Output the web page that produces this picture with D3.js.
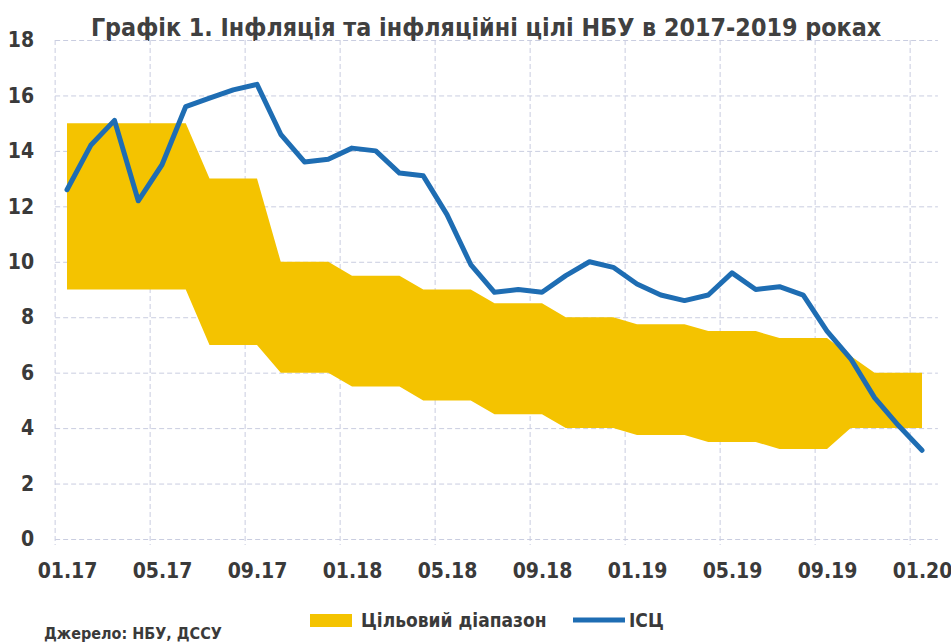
<!DOCTYPE html>
<html>
<head>
<meta charset="utf-8">
<script src="https://cdn.jsdelivr.net/npm/d3@7"></script>
<style>
  body { margin: 0; background: #fff; }
  svg text { font-family: "Liberation Sans Narrow", "DejaVu Sans Condensed", "Roboto", sans-serif; font-weight: bold; fill: #3a3a3a; }
</style>
</head>
<body>
<div id="chart"></div>
<script>
// monthly points, 01.17 .. 01.20
const months = [
  "01.17","02.17","03.17","04.17","05.17","06.17","07.17","08.17","09.17","10.17","11.17","12.17",
  "01.18","02.18","03.18","04.18","05.18","06.18","07.18","08.18","09.18","10.18","11.18","12.18",
  "01.19","02.19","03.19","04.19","05.19","06.19","07.19","08.19","09.19","10.19","11.19","12.19",
  "01.20"
];

// CPI, % yoy
const cpi = [
  12.6, 14.2, 15.1, 12.2, 13.5, 15.6, 15.9, 16.2, 16.4, 14.6, 13.6, 13.7,
  14.1, 14.0, 13.2, 13.1, 11.7, 9.9, 8.9, 9.0, 8.9, 9.5, 10.0, 9.8,
  9.2, 8.8, 8.6, 8.8, 9.6, 9.0, 9.1, 8.8, 7.5, 6.5, 5.1, 4.1,
  3.2
];

// target range, lower and upper bound
const bandLow = [
  9, 9, 9, 9, 9, 9, 7, 7, 7, 6, 6, 6,
  5.5, 5.5, 5.5, 5, 5, 5, 4.5, 4.5, 4.5, 4, 4, 4,
  3.75, 3.75, 3.75, 3.5, 3.5, 3.5, 3.25, 3.25, 3.25, 4, 4, 4,
  4
];
const bandHigh = [
  15, 15, 15, 15, 15, 15, 13, 13, 13, 10, 10, 10,
  9.5, 9.5, 9.5, 9, 9, 9, 8.5, 8.5, 8.5, 8, 8, 8,
  7.75, 7.75, 7.75, 7.5, 7.5, 7.5, 7.25, 7.25, 7.25, 6.6, 6, 6,
  6
];

const yTicks = [0, 2, 4, 6, 8, 10, 12, 14, 16, 18];
const xTickLabels = ["01.17","05.17","09.17","01.18","05.18","09.18","01.19","05.19","09.19","01.20"];

class InflationChart {
  constructor(_config) {
    this.config = {
      parentElement: _config.parentElement,
      containerWidth: _config.containerWidth || 951,
      containerHeight: _config.containerHeight || 644,
      bandColor: '#f4c300',
      lineColor: '#1e6db3',
      gridColor: '#c9cde0'
    };
    this.data = months.map((m, i) => ({ month: m, i: i, cpi: cpi[i], low: bandLow[i], high: bandHigh[i] }));
    this.initVis();
  }

  initVis() {
    let vis = this;

    vis.svg = d3.select(vis.config.parentElement)
      .append('svg')
        .attr('width', vis.config.containerWidth)
        .attr('height', vis.config.containerHeight);

    // month index -> x, points sit at category centres
    vis.xScale = d3.scaleLinear()
      .domain([0, months.length - 1])
      .range([67, 922]);

    vis.yScale = d3.scaleLinear()
      .domain([0, 18])
      .range([539, 40]);

    vis.left = vis.xScale(-0.5);
    vis.right = vis.xScale(months.length - 0.5) + 4;

    // title, shrunk to the width it takes in the original
    const title = vis.svg.append('text')
      .attr('x', 486)
      .attr('y', 36)
      .attr('text-anchor', 'middle')
      .style('font-size', '27px')
      .style('fill', '#404040')
      .text('Графік 1. Інфляція та інфляційні цілі НБУ в 2017-2019 роках');
    const w = title.node().getComputedTextLength();
    if (w > 790) title.style('font-size', (27 * 790 / w).toFixed(1) + 'px');

    vis.gridG = vis.svg.append('g').attr('class', 'grid');
    vis.chart = vis.svg.append('g');

    vis.renderVis();
  }

  renderVis() {
    let vis = this;

    // horizontal gridlines (y axis with full-width ticks)
    const yAxis = d3.axisLeft(vis.yScale)
      .tickValues(yTicks)
      .tickSize(-(vis.right - vis.left))
      .tickPadding(20)
      .tickFormat(d3.format('d'));

    const yAxisG = vis.gridG.append('g')
      .attr('transform', `translate(${vis.left},0)`)
      .call(yAxis);
    yAxisG.select('.domain').remove();
    yAxisG.selectAll('line')
      .attr('stroke', vis.config.gridColor)
      .attr('stroke-dasharray', '5,3');
    yAxisG.selectAll('text')
      .attr('x', -21)
      .style('font-size', '21px')
      .style('fill', '#3a3a3a');

    // vertical gridlines between categories, every 4 months
    const xTicks = xTickLabels.map(l => months.indexOf(l));
    vis.gridG.selectAll('.vgrid')
      .data(xTicks)
      .join('line')
      .attr('class', 'vgrid')
      .attr('x1', d => vis.xScale(d - 0.5))
      .attr('x2', d => vis.xScale(d - 0.5))
      .attr('y1', vis.yScale(18))
      .attr('y2', vis.yScale(0) + 6)
      .attr('stroke', vis.config.gridColor)
      .attr('stroke-dasharray', '5,3');

    // x labels
    const xAxis = d3.axisBottom(vis.xScale)
      .tickValues(xTicks)
      .tickSize(0)
      .tickPadding(24)
      .tickFormat(d => months[d]);

    const xAxisG = vis.svg.append('g')
      .attr('transform', `translate(0,${vis.yScale(0)})`)
      .call(xAxis);
    xAxisG.select('.domain').remove();
    xAxisG.selectAll('text')
      .style('font-size', '21px')
      .style('fill', '#3a3a3a');

    // target band
    const area = d3.area()
      .x(d => vis.xScale(d.i))
      .y0(d => vis.yScale(d.low))
      .y1(d => vis.yScale(d.high));

    vis.chart.append('path')
      .datum(vis.data)
      .attr('d', area)
      .attr('fill', vis.config.bandColor);

    // CPI line
    const line = d3.line()
      .x(d => vis.xScale(d.i))
      .y(d => vis.yScale(d.cpi));

    vis.chart.append('path')
      .datum(vis.data)
      .attr('d', line)
      .attr('fill', 'none')
      .attr('stroke', vis.config.lineColor)
      .attr('stroke-width', 5)
      .attr('stroke-linejoin', 'round')
      .attr('stroke-linecap', 'round');

    // legend
    const legend = vis.svg.append('g');
    legend.append('rect')
      .attr('x', 310).attr('y', 614)
      .attr('width', 42).attr('height', 13)
      .attr('fill', vis.config.bandColor);
    legend.append('text')
      .attr('x', 361).attr('y', 627)
      .style('font-size', '19px')
      .text('Цільовий діапазон');
    legend.append('line')
      .attr('x1', 573).attr('x2', 625)
      .attr('y1', 620).attr('y2', 620)
      .attr('stroke', vis.config.lineColor)
      .attr('stroke-width', 5);
    legend.append('text')
      .attr('x', 629).attr('y', 627)
      .style('font-size', '19px')
      .text('ІСЦ');

    vis.svg.append('text')
      .attr('x', 44).attr('y', 639)
      .style('font-size', '16px')
      .text('Джерело: НБУ, ДССУ');
  }
}

new InflationChart({ parentElement: '#chart' });
</script>
</body>
</html>
